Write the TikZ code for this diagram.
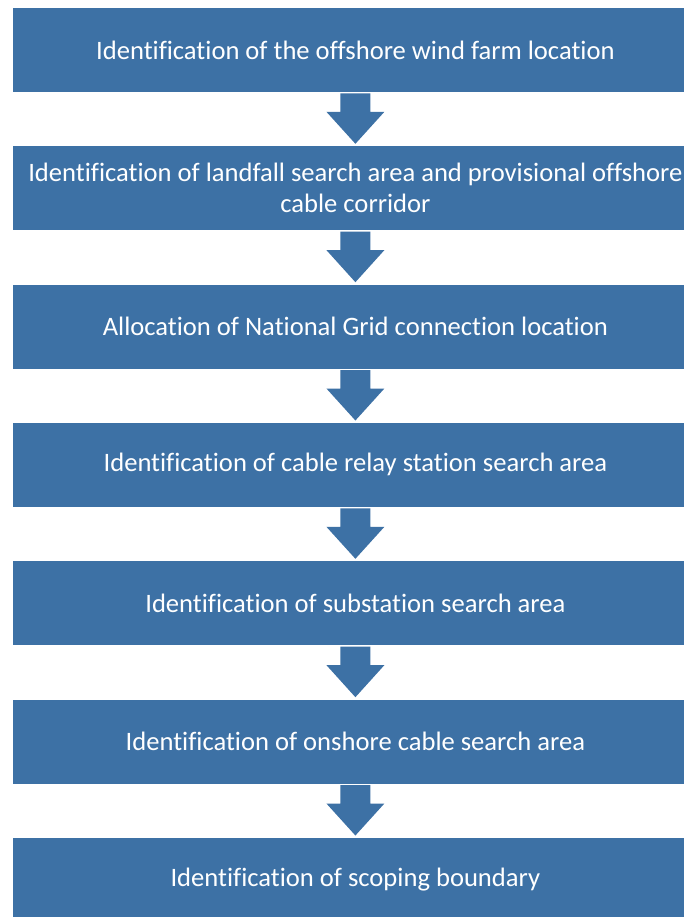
\documentclass[tikz,border=0pt]{standalone}
\usepackage{fontspec}
\setmainfont{Carlito}[Ligatures=CommonOff]
\usetikzlibrary{calc}
\definecolor{boxblue}{HTML}{3D71A5}
\begin{document}
\begin{tikzpicture}[x=1pt,y=-1pt,
  stepbox/.style={fill=boxblue, draw=white, line width=0.8pt, minimum width=686pt,
    minimum height=85pt, anchor=north west, inner sep=0pt, text=white,
    font=\fontsize{26.6}{31}\selectfont, align=center},
  blockarrow/.style={fill=boxblue, draw=none}]
\useasboundingbox (0,0) rectangle (684,917);
\clip (0,0) rectangle (684,917);
\fill[white] (0,0) rectangle (684,917);
\node[stepbox] (b1) at (12,7) {Identification of the offshore wind farm location};
\node[stepbox] (b2) at (12,145.3) {Identification of landfall search area and provisional offshore\\cable corridor};
\node[stepbox] (b3) at (12,283.7) {Allocation of National Grid connection location};
\node[stepbox] (b4) at (12,422) {Identification of cable relay station search area};
\node[stepbox] (b5) at (12,560.3) {Identification of substation search area};
\node[stepbox] (b6) at (12,698.7) {Identification of onshore cable search area};
\node[stepbox] (b7) at (12,837) {Identification of scoping boundary};
\foreach \a/\b in {b1/b2,b2/b3,b3/b4,b4/b5,b5/b6,b6/b7}{
  \fill[blockarrow] ($(\a.south)+(-15,0.5)$) -- ($(\a.south)+(-15,19)$) -- ($(\a.south)+(-29,19)$)
    -- ($(\b.north)+(0,-1.5)$) -- ($(\a.south)+(29,19)$) -- ($(\a.south)+(15,19)$)
    -- ($(\a.south)+(15,0.5)$) -- cycle;
}
\end{tikzpicture}
\end{document}
